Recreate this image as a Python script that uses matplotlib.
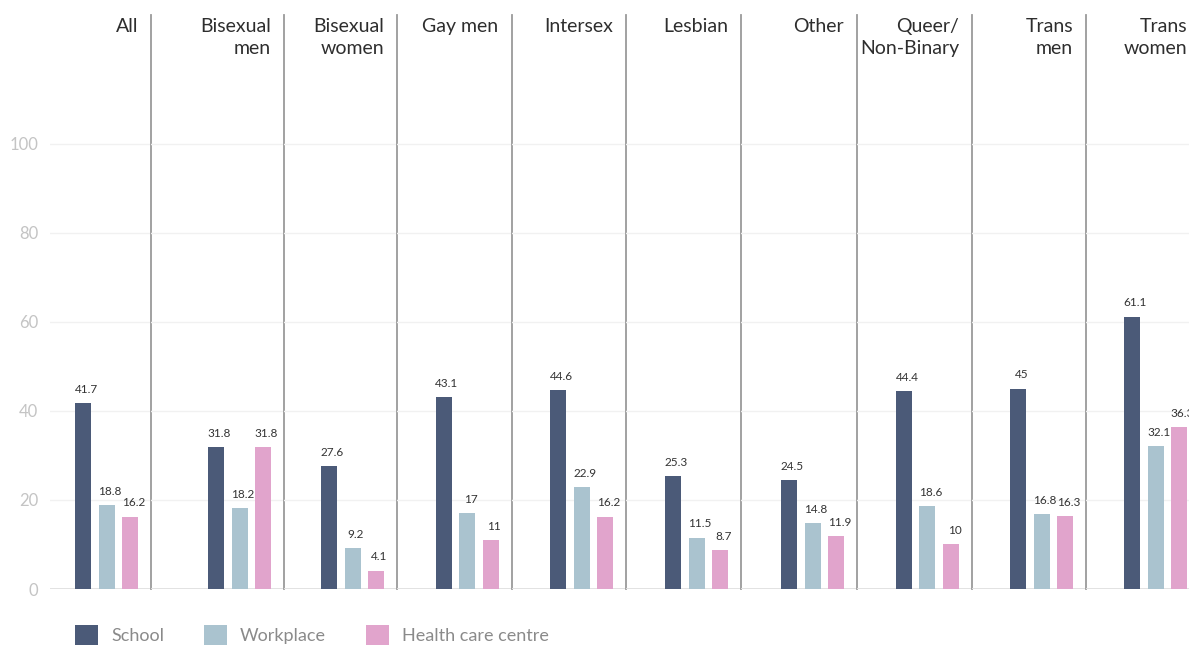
import matplotlib
matplotlib.use("Agg")
import matplotlib.pyplot as plt
from matplotlib.patches import Patch

plt.rcParams['font.family'] = ['Lato', 'DejaVu Sans']

groups = ["All", "Bisexual\nmen", "Bisexual\nwomen", "Gay men", "Intersex", "Lesbian",
          "Other", "Queer/\nNon-Binary", "Trans\nmen", "Trans\nwomen"]
series = ["School", "Workplace", "Health care centre"]
school = [41.7, 31.8, 27.6, 43.1, 44.6, 25.3, 24.5, 44.4, 45, 61.1]
workplace = [18.8, 18.2, 9.2, 17, 22.9, 11.5, 14.8, 18.6, 16.8, 32.1]
health = [16.2, 31.8, 4.1, 11, 16.2, 8.7, 11.9, 10, 16.3, 36.3]
yticks = [0, 20, 40, 60, 80, 100]

colors = ["#4b5a78", "#aac3cf", "#e1a4cc"]

W, H = 1189, 646
fig = plt.figure(figsize=(W / 100, H / 100), dpi=100)

# panel boundaries in pixels (layout)
edges = [50, 151, 284, 397, 511.5, 626, 741, 857, 972, 1086, 1200]
top_px, base_px = 15, 589
unit = 23.5  # px per bar step
bar_w = 16 / unit
right_pad = 21 / unit
ytop = (base_px - top_px) / 4.455

for i, g in enumerate(groups):
    x0, x1 = edges[i], edges[i + 1]
    ax = fig.add_axes([x0 / W, (H - base_px) / H, (x1 - x0) / W, (base_px - top_px) / H])
    vals = [school[i], workplace[i], health[i]]
    right = 2 + right_pad
    ax.set_xlim(right - (x1 - x0) / unit, right)
    ax.set_ylim(0, ytop)
    ax.set_yticks(yticks)
    ax.grid(axis='y', color='#f1f1f1', lw=1, zorder=0)
    ax.axhline(0, color='#dcdcdc', lw=2, zorder=1)
    bars = ax.bar(range(3), vals, width=bar_w, color=colors, zorder=3, clip_on=False)
    for rect, v in zip(bars, vals):
        ax.annotate(f"{v:g}", xy=(rect.get_x() + rect.get_width() / 2, rect.get_height()),
                    xytext=(2.5, 6), textcoords='offset points', ha='center', va='bottom',
                    fontsize=8.5, color='#333333', annotation_clip=False)
    for s in ['top', 'left', 'bottom']:
        ax.spines[s].set_visible(False)
    ax.spines['right'].set_color('#9a9a9a')
    ax.spines['right'].set_linewidth(1.3)
    ax.set_xticks([])
    ax.tick_params(axis='y', length=0, pad=8.5, labelsize=12, labelcolor='#c4c4c4')
    if i > 0:
        ax.tick_params(axis='y', labelleft=False)
    ax.annotate(g, xy=(2 + bar_w / 2, ytop), xycoords='data', xytext=(0, -2),
                textcoords='offset points', ha='right', va='top', fontsize=14,
                color='#2e2e2e', linespacing=1.35, annotation_clip=False)
    ax.patch.set_alpha(0)

handles = [Patch(facecolor=c, edgecolor='none') for c in colors]
fig.legend(handles, series, loc='center left', bbox_to_anchor=(75 / W, 1 - 635 / H),
           ncol=3, frameon=False, fontsize=13, handlelength=1.28, handleheight=1.28,
           handletextpad=0.72, columnspacing=2.2, labelcolor='#8a8a8a', borderpad=0,
           borderaxespad=0)

fig.savefig("out.png", dpi=100)
